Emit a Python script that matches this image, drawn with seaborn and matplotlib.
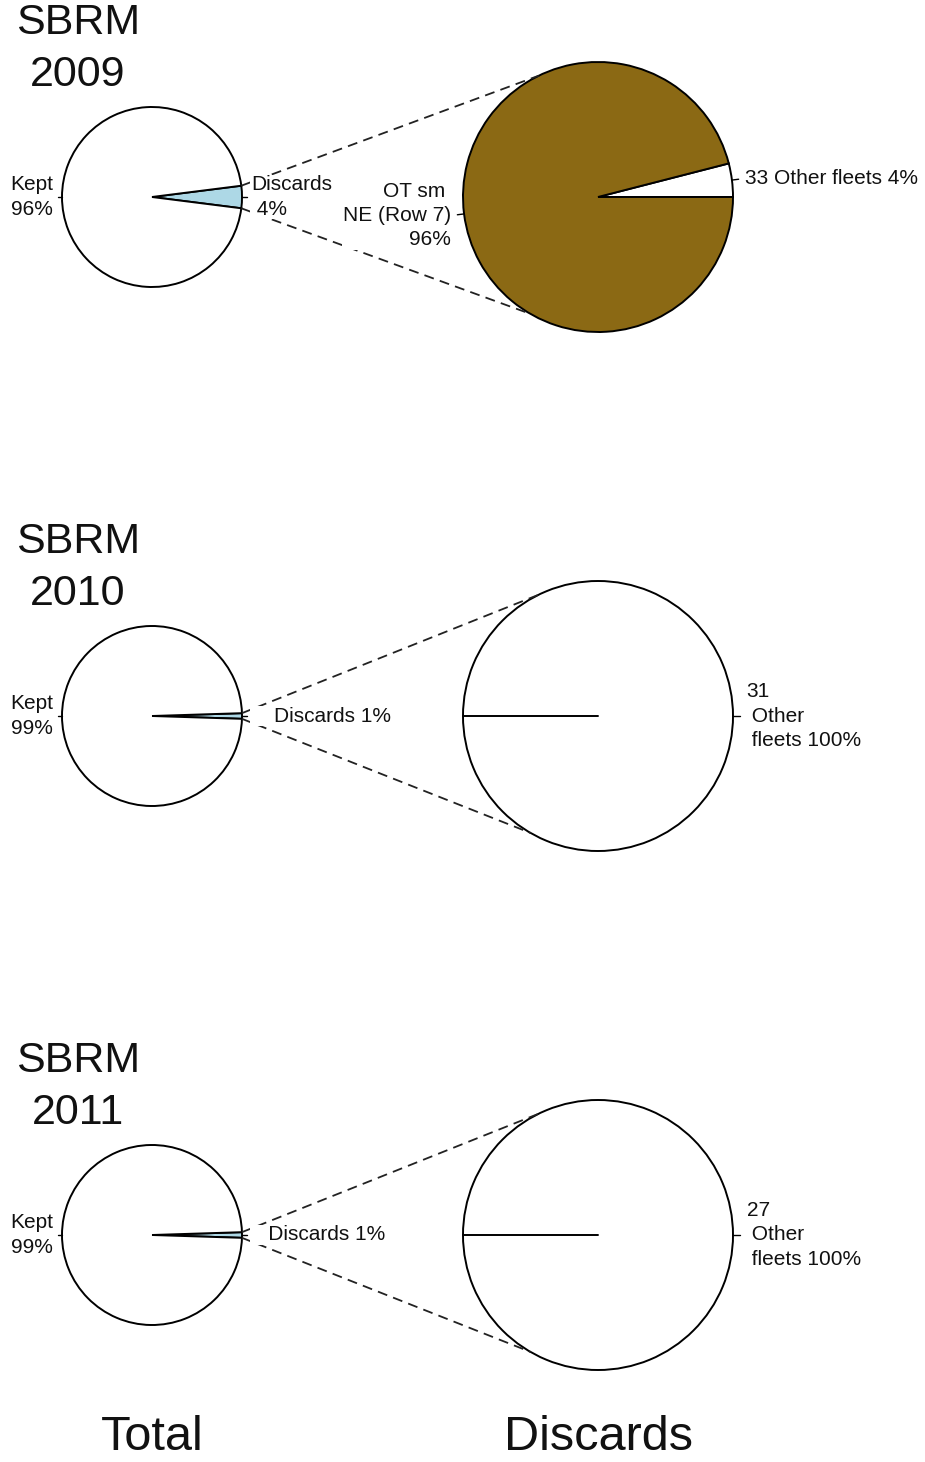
import math
import matplotlib
matplotlib.use("Agg")
import matplotlib.pyplot as plt
import seaborn as sns

sns.set_theme(style="white")
plt.rcParams['font.family'] = ['Liberation Sans', 'DejaVu Sans']

# values
years = [2009, 2010, 2011]
kept_pct = [96, 99, 99]
discard_pct = [4, 1, 1]
top_fleet_name = ["OT sm \nNE (Row 7)", "", ""]
top_fleet_pct = [96, 0, 0]
other_fleet_count = [33, 31, 27]
other_fleet_pct = [4, 100, 100]

# label text layout per row
discard_fmt = ["Discards\n {}%", "    Discards {}%", "   Discards {}%"]
other_fmt = ["{} Other fleets {}%", "{}\n Other\n fleets {}%", "{}\n Other\n fleets {}%"]

W, H = 925, 1462
row_y = [H - 197, H - 716, H - 1235]
small_x, small_r = 152, 90
big_x, big_r = 598, 135
link_angles = (116, -120)
brown = "#8B6914"
blue = "#ADD8E6"
label_size = 15

fig = plt.figure(figsize=(W / 100, H / 100), dpi=100)
ax = fig.add_axes([0, 0, 1, 1])


def label_wedges(wedges, labels, cx, cy, r):
    for w, lab in zip(wedges, labels):
        mid = math.radians((w.theta1 + w.theta2) / 2)
        c, s = math.cos(mid), math.sin(mid)
        ax.plot([cx + r * c, cx + 1.05 * r * c], [cy + r * s, cy + 1.05 * r * s],
                color='black', lw=1, zorder=2)
        ha = 'left' if c > 0 else 'right'
        ax.text(cx + 1.1 * r * c, cy + 1.1 * r * s, lab, ha=ha, va='center',
                multialignment=ha, fontsize=label_size, linespacing=1.35,
                color='#111111', zorder=4,
                bbox=dict(facecolor='white', edgecolor='none', pad=0.5))


def on_circle(cx, cy, r, deg):
    a = math.radians(deg)
    return cx + r * math.cos(a), cy + r * math.sin(a)


for i, year in enumerate(years):
    cy = row_y[i]

    # Total pie: discards centred on the right
    small_vals = [discard_pct[i], kept_pct[i]]
    start = -discard_pct[i] * 360 / sum(small_vals) / 2
    small_w, _ = ax.pie(small_vals, colors=[blue, 'white'], startangle=start,
                        center=(small_x, cy), radius=small_r, frame=False,
                        wedgeprops=dict(edgecolor='black', linewidth=1.4))
    label_wedges(small_w, [discard_fmt[i].format(discard_pct[i]), f"Kept\n{kept_pct[i]}%"],
                 small_x, cy, small_r)

    # Discards pie
    big_vals, big_cols, big_labs = [], [], []
    if other_fleet_pct[i] > 0:
        big_vals.append(other_fleet_pct[i])
        big_cols.append('white')
        big_labs.append(other_fmt[i].format(other_fleet_count[i], other_fleet_pct[i]))
    if top_fleet_pct[i] > 0:
        big_vals.append(top_fleet_pct[i])
        big_cols.append(brown)
        big_labs.append(f"{top_fleet_name[i]}\n{top_fleet_pct[i]}%")
    big_start = 0 if len(big_vals) > 1 else 180
    big_w, _ = ax.pie(big_vals, colors=big_cols, startangle=big_start,
                      center=(big_x, cy), radius=big_r, frame=False,
                      wedgeprops=dict(edgecolor='black', linewidth=1.4))
    if len(big_w) == 1:
        ex, ey = on_circle(big_x, cy, big_r, big_w[0].theta1)
        ax.plot([big_x, ex], [cy, ey], color='black', lw=1.4, zorder=2)
    label_wedges(big_w, big_labs, big_x, cy, big_r)

    # dashed links from the discards wedge to the discards pie
    dw = small_w[0]
    for th_small, th_big in zip((dw.theta2, dw.theta1), link_angles):
        x0, y0 = on_circle(small_x, cy, small_r, th_small)
        x1, y1 = on_circle(big_x, cy, big_r, th_big)
        ax.plot([x0, x1], [y0, y1], color='#222222', lw=1.3, dashes=(5.5, 3.5), zorder=2)

    ax.text(78, cy + 148, f"SBRM\n{year}", ha='center', va='center',
            multialignment='center', fontsize=31, linespacing=1.37, color='#111111')

ax.text(small_x, H - 1437, "Total", ha='center', va='center', fontsize=35, color='#111111')
ax.text(big_x, H - 1437, "Discards", ha='center', va='center', fontsize=35, color='#111111')

ax.set_xlim(0, W)
ax.set_ylim(0, H)
ax.set_aspect('equal')
ax.axis('off')

fig.savefig("out.png", dpi=100)
